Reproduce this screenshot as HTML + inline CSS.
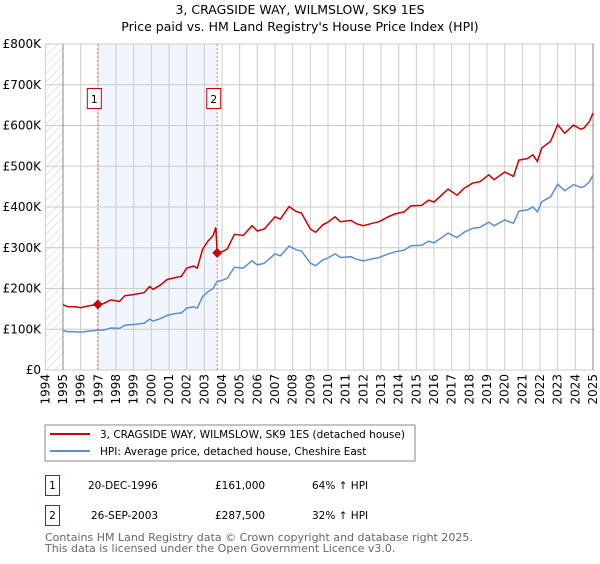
<!DOCTYPE html>
<html><head><meta charset="utf-8"><style>
body{margin:0;background:#fff;font-family:"DejaVu Sans","Liberation Sans",sans-serif;}
svg text{font-family:"DejaVu Sans","Liberation Sans",sans-serif;}
</style></head><body>
<svg id="chart" width="600" height="560" xmlns="http://www.w3.org/2000/svg">
<defs><pattern id="hatch" width="6" height="6" patternUnits="userSpaceOnUse" patternTransform="rotate(45)"><line x1="0" y1="0" x2="0" y2="6" stroke="#ccc" stroke-width="1"/></pattern></defs>
<text x="300" y="14" text-anchor="middle" font-size="12.5">3, CRAGSIDE WAY, WILMSLOW, SK9 1ES</text>
<text x="300" y="31" text-anchor="middle" font-size="12.5">Price paid vs. HM Land Registry's House Price Index (HPI)</text>
<g id="plot"></g>
<rect x="45" y="425" width="370" height="36" fill="none" stroke="#888"/>
<line x1="50" y1="434" x2="90" y2="434" stroke="#cc0000" stroke-width="2"/>
<text x="100" y="438" font-size="10.5">3, CRAGSIDE WAY, WILMSLOW, SK9 1ES (detached house)</text>
<line x1="50" y1="451" x2="90" y2="451" stroke="#5b8fd4" stroke-width="2"/>
<text x="100" y="455" font-size="10.5">HPI: Average price, detached house, Cheshire East</text>
<g font-size="10.5">
<rect x="45.5" y="475.5" width="14" height="20" fill="none" stroke="#cc0000"/>
<text x="52.5" y="489" text-anchor="middle">1</text>
<text x="88" y="489">20-DEC-1996</text>
<text x="215" y="489">£161,000</text>
<text x="312" y="489">64% ↑ HPI</text>
<rect x="45.5" y="505.5" width="14" height="20" fill="none" stroke="#cc0000"/>
<text x="52.5" y="519" text-anchor="middle">2</text>
<text x="91" y="519">26-SEP-2003</text>
<text x="215" y="519">£287,500</text>
<text x="312" y="519">32% ↑ HPI</text>
</g>
<text x="45" y="541" font-size="11" fill="#666">Contains HM Land Registry data © Crown copyright and database right 2025.</text>
<text x="45" y="552" font-size="11" fill="#666">This data is licensed under the Open Government Licence v3.0.</text>
</svg>
<script>
const years=[1995.0,1995.3,1995.7,1996.0,1996.4,1996.97,1997.3,1997.7,1998.2,1998.5,1999.1,1999.6,1999.9,2000.1,2000.5,2000.9,2001.3,2001.7,2002.0,2002.4,2002.6,2002.9,2003.2,2003.5,2003.65,2003.73,2004.0,2004.3,2004.7,2005.2,2005.7,2006.0,2006.4,2007.0,2007.3,2007.8,2008.2,2008.5,2009.0,2009.3,2009.7,2010.0,2010.4,2010.7,2011.3,2011.6,2012.0,2012.5,2012.9,2013.4,2013.8,2014.3,2014.7,2015.3,2015.7,2016.0,2016.8,2017.3,2017.7,2018.2,2018.6,2019.1,2019.4,2020.0,2020.5,2020.8,2021.3,2021.6,2021.85,2022.1,2022.6,2023.0,2023.4,2023.9,2024.3,2024.5,2024.8,2025.0];
const hpiValues=[97,94,94,93,95,98,98,103,102,110,112,115,125,120,126,134,138,140,152,155,152,180,192,200,212,217,220,225,252,250,268,258,262,285,280,304,295,292,262,256,270,275,285,276,278,272,268,273,276,285,290,294,305,306,316,312,336,325,338,348,350,363,354,368,360,390,393,400,388,413,425,456,440,455,448,450,462,478];
const propertyValues=[160,155,155,153,157,161,163,172,168,182,186,190,205,198,208,222,226,230,250,255,250,296,316,330,350,287.5,290,297,333,330,354,341,346,376,370,401,389,385,346,338,356,363,376,364,367,359,354,360,364,376,383,388,403,404,417,412,444,429,446,459,462,479,467,486,475,515,519,528,512,545,561,602,581,601,591,594,610,631];
const saleYears=[1996.97,2003.73];
const salePrices=[161,287.5];
const saleLabels=["1","2"];
const yTicks=[0,100,200,300,400,500,600,700,800];
const yTickLabels=["£0","£100K","£200K","£300K","£400K","£500K","£600K","£700K","£800K"];
const xTicks=[1994,1995,1996,1997,1998,1999,2000,2001,2002,2003,2004,2005,2006,2007,2008,2009,2010,2011,2012,2013,2014,2015,2016,2017,2018,2019,2020,2021,2022,2023,2024,2025];

const NS="http://www.w3.org/2000/svg";
const g=document.getElementById('plot');
const X=v=>63+(v-1995)*17.667;
const Y=v=>370-v*0.4075;
function mk(t,a){const e=document.createElementNS(NS,t);for(const k in a)e.setAttribute(k,a[k]);g.appendChild(e);return e;}
let e;
e=mk('rect',{x:45,y:44,width:18,height:326,fill:'url(#hatch)'});


e=mk('rect',{x:X(saleYears[0]),y:44,width:X(saleYears[1])-X(saleYears[0]),height:326,fill:'#eef3fc',opacity:0.8});


yTicks.forEach((t,i)=>{
  e=mk('line',{x1:45,x2:595,y1:Y(t),y2:Y(t),stroke:'#ccc'});
  
  
  e=mk('text',{x:41,y:Y(t)+4,'text-anchor':'end','font-size':12});
  e.textContent=yTickLabels[i];
  
  
});
xTicks.forEach(t=>{
  e=mk('line',{x1:X(t),x2:X(t),y1:44,y2:370,stroke:'#ccc'});
  
  
  e=mk('text',{x:0,y:0,'text-anchor':'end','font-size':12,transform:`translate(${X(t)+4},374) rotate(-90)`});
  e.textContent=t;
  
  
});
e=mk('line',{x1:63,x2:63,y1:44,y2:370,stroke:'#888'});


e=mk('line',{x1:593,x2:593,y1:44,y2:370,stroke:'#888'});


saleYears.forEach((s,i)=>{
  e=mk('line',{x1:X(s),x2:X(s),y1:44,y2:370,stroke:'#f07070','stroke-dasharray':'2,2'});
  
  
  e=mk('rect',{x:X(s)-10.5,y:88.5,width:14,height:20,fill:'#fff',stroke:'#cc0000'});
  
  
  e=mk('text',{x:X(s)-3.5,y:103,'text-anchor':'middle','font-size':11});
  e.textContent=saleLabels[i];
  
  
});
const pts=vals=>years.map((y,i)=>X(y).toFixed(1)+','+Y(vals[i]).toFixed(1)).join(' ');
e=mk('polyline',{points:pts(hpiValues),fill:'none',stroke:'#5b8fd4','stroke-width':1.5});


e=mk('polyline',{points:pts(propertyValues),fill:'none',stroke:'#cc0000','stroke-width':1.5});


saleYears.forEach((s,i)=>{
  const cx=X(s),cy=Y(salePrices[i]);
  e=mk('polygon',{points:`${cx},${cy-5} ${cx+5},${cy} ${cx},${cy+5} ${cx-5},${cy}`,fill:'#cc0000'});
  
  
});
</script>
</body></html>
